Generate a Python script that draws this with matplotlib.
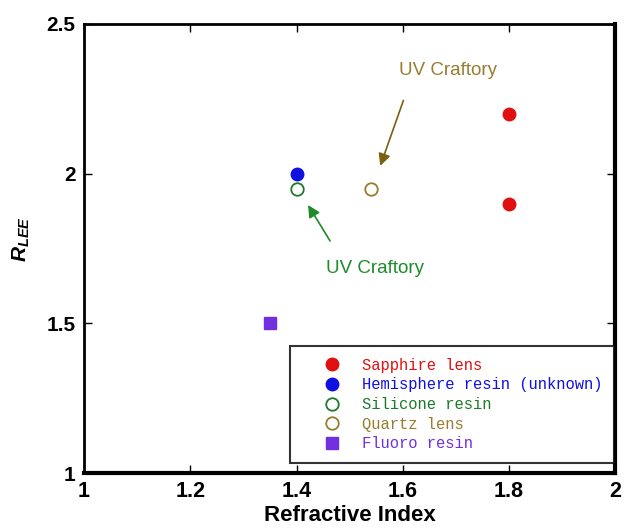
import matplotlib
matplotlib.use("Agg")
import matplotlib.pyplot as plt

plt.rcParams['font.family'] = ['Liberation Sans', 'DejaVu Sans']
plt.rcParams['mathtext.fontset'] = 'custom'
plt.rcParams['mathtext.it'] = 'Liberation Sans:italic:bold'
plt.rcParams['mathtext.rm'] = 'Liberation Sans:bold'

# data
sapphire_x = [1.8, 1.8]
sapphire_y = [2.2, 1.9]
hemi_x = [1.4]
hemi_y = [2.0]
silicone_x = [1.4]
silicone_y = [1.95]
quartz_x = [1.54]
quartz_y = [1.95]
fluoro_x = [1.35]
fluoro_y = [1.5]

xticks = [1, 1.2, 1.4, 1.6, 1.8, 2]
xticklabels = ['1', '1.2', '1.4', '1.6', '1.8', '2']
yticks = [1, 1.5, 2, 2.5]
yticklabels = ['1', '1.5', '2', '2.5']

fig = plt.figure(figsize=(6.25, 5.3), dpi=100)
ax = fig.add_axes([0.1344, 0.1075, 0.85, 0.8475])

ax.plot(sapphire_x, sapphire_y, 'o', color='#e01010', ms=9, ls='none', label='Sapphire lens')
ax.plot(hemi_x, hemi_y, 'o', color='#1010e0', ms=9, ls='none', label='Hemisphere resin (unknown)')
ax.plot(silicone_x, silicone_y, 'o', mfc='white', mec='#1e7a2a', mew=1.3, ms=9, ls='none', label='Silicone resin')
ax.plot(quartz_x, quartz_y, 'o', mfc='white', mec='#9a7c30', mew=1.3, ms=9, ls='none', label='Quartz lens')
ax.plot(fluoro_x, fluoro_y, 's', color='#7030e0', ms=9, ls='none', label='Fluoro resin')

# annotations
ax.annotate('', xy=(1.556, 2.017), xytext=(1.603, 2.253),
            arrowprops=dict(arrowstyle='-|>', color='#7a6010', lw=1.2, mutation_scale=18))
ax.text(1.686, 2.343, 'UV Craftory', color='#9a7c30', fontsize=13.5, ha='center', va='center')
ax.annotate('', xy=(1.419, 1.903), xytext=(1.466, 1.767),
            arrowprops=dict(arrowstyle='-|>', color='#1e8a2a', lw=1.2, mutation_scale=18))
ax.text(1.547, 1.683, 'UV Craftory', color='#1e8a2a', fontsize=13.5, ha='center', va='center')

ax.set_xlim(1, 2)
ax.set_ylim(1, 2.5)
ax.set_xticks(xticks)
ax.set_xticklabels(xticklabels, fontsize=15.5, fontweight='bold')
ax.set_yticks(yticks)
ax.set_yticklabels(yticklabels, fontsize=15, fontweight='bold')
ax.tick_params(direction='in', length=6, width=1, top=True, right=True, pad=6)
for s in ax.spines.values():
    s.set_linewidth(2)
ax.spines['right'].set_linewidth(3)
ax.spines['bottom'].set_linewidth(3)

ax.set_xlabel('Refractive Index', fontsize=16, fontweight='bold', labelpad=2)
ax.set_ylabel(r'$R_{LEE}$', fontsize=15)
ax.yaxis.set_label_coords(-0.098, 0.52)

leg = ax.legend(loc='lower right', bbox_to_anchor=(0.998, 0.022), frameon=True, fancybox=False,
                edgecolor='black', prop={'family': 'Liberation Mono', 'size': 11.2},
                handletextpad=-0.1, labelspacing=0.3, borderpad=0.75, handlelength=4.0,
                borderaxespad=0.0)
leg.get_frame().set_linewidth(1.5)
text_colors = ['#e01010', '#1010e0', '#1e7a2a', '#9a7c30', '#7030e0']
for t, c in zip(leg.get_texts(), text_colors):
    t.set_color(c)

fig.savefig('out.png', dpi=100)
